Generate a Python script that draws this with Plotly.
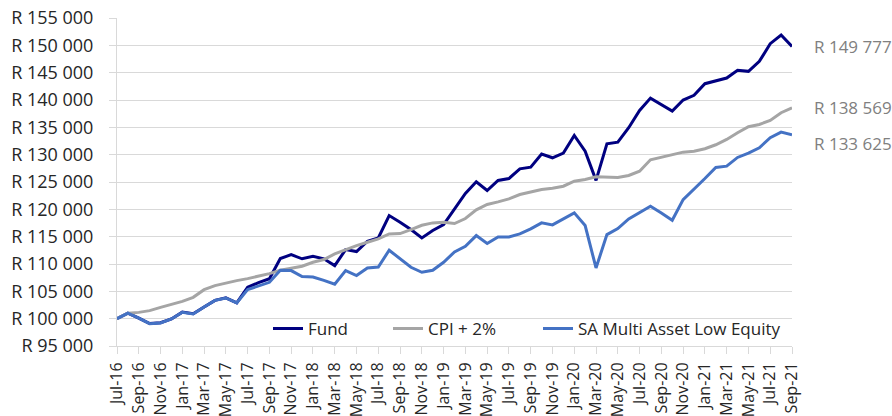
import plotly.graph_objects as go

months = ["Jul-16","Aug-16","Sep-16","Oct-16","Nov-16","Dec-16",
          "Jan-17","Feb-17","Mar-17","Apr-17","May-17","Jun-17","Jul-17","Aug-17","Sep-17","Oct-17","Nov-17","Dec-17",
          "Jan-18","Feb-18","Mar-18","Apr-18","May-18","Jun-18","Jul-18","Aug-18","Sep-18","Oct-18","Nov-18","Dec-18",
          "Jan-19","Feb-19","Mar-19","Apr-19","May-19","Jun-19","Jul-19","Aug-19","Sep-19","Oct-19","Nov-19","Dec-19",
          "Jan-20","Feb-20","Mar-20","Apr-20","May-20","Jun-20","Jul-20","Aug-20","Sep-20","Oct-20","Nov-20","Dec-20",
          "Jan-21","Feb-21","Mar-21","Apr-21","May-21","Jun-21","Jul-21","Aug-21","Sep-21"]

fund = [100000,101000,100100,99100,99250,99950,101200,100900,102150,103350,103800,102900,
        105740,106600,107300,110990,111700,110950,111400,110950,109700,112640,112270,114160,
        114770,118860,117640,116300,114770,116120,117220,120100,122900,125030,123440,125270,
        125640,127410,127720,130100,129430,130280,133520,130640,125300,131990,132290,134920,
        138100,140350,139190,137970,139990,140850,142980,143470,144020,145430,145240,147070,
        150310,151890,149777]

cpi = [100000,101000,101150,101470,102070,102560,103170,103900,105300,106040,106530,106960,
       107330,107750,108240,108850,109160,109590,110320,110810,111850,112640,113370,113980,
       114600,115510,115570,116300,117090,117520,117640,117400,118320,119900,120880,121370,
       121920,122710,123130,123630,123860,124230,125150,125460,125950,125820,125820,126190,
       126980,129060,129490,129910,130460,130640,131080,131810,132780,134000,135100,135530,
       136260,137670,138569]

sa = [100000,101000,100100,99080,99210,99940,101160,100850,102130,103350,103790,102870,
      105310,105920,106650,108850,108790,107700,107630,107000,106300,108790,107880,109280,
      109460,112520,110930,109400,108490,108850,110320,112210,113250,115200,113740,114960,
      114960,115510,116420,117520,117160,118250,119350,117030,109280,115380,116480,118260,
      119470,120570,119350,118010,121790,123630,125640,127660,127900,129490,130280,131260,
      133090,134120,133625]

series_names = ["Fund", "CPI + 2%", "SA Multi Asset Low Equity"]
series_colors = ["#000080", "#A5A5A5", "#4472C4"]
end_labels = ["R 149 777", "R 138 569", "R 133 625"]
end_label_shift = [0, 0, -9]
legend_ids = ["legend", "legend2", "legend3"]
legend_x = [0.2237, 0.4015, 0.6237]

y_ticks = list(range(95000, 155001, 5000))
y_ticktext = ["R " + f"{v:,}".replace(",", " ") for v in y_ticks]

FONT = "Open Sans"
TXT = "#262626"
x_idx = list(range(len(months)))

fig = go.Figure()
for name, vals, col, lg in zip(series_names, [fund, cpi, sa], series_colors, legend_ids):
    fig.add_trace(go.Scatter(x=x_idx, y=vals, name=name, mode="lines", legend=lg,
                             line=dict(color=col, width=3)))

for vals, txt, sh in zip([fund, cpi, sa], end_labels, end_label_shift):
    fig.add_annotation(x=x_idx[-1], y=vals[-1], text=txt, showarrow=False,
                       xanchor="left", yanchor="middle", xshift=20, yshift=sh,
                       font=dict(family=FONT, size=17, color="#808080"))

legend_common = dict(orientation="h", y=0.052, xanchor="left", yanchor="middle",
                     bgcolor="rgba(0,0,0,0)", font=dict(family=FONT, size=17, color=TXT),
                     itemwidth=30)
fig.update_layout(
    width=892, height=416,
    margin=dict(l=117, r=100, t=18, b=70, autoexpand=False),
    paper_bgcolor="white", plot_bgcolor="white",
    font=dict(family=FONT, size=17, color=TXT),
    legend=dict(x=legend_x[0], **legend_common),
    legend2=dict(x=legend_x[1], **legend_common),
    legend3=dict(x=legend_x[2], **legend_common),
    showlegend=True,
)
fig.update_xaxes(range=[0, len(months) - 1], tickvals=x_idx[::2], ticktext=months[::2],
                 tickangle=-90, showgrid=False, showline=True, linecolor="#D9D9D9", linewidth=1,
                 ticks="outside", ticklen=7, tickcolor="#D9D9D9", zeroline=False, automargin=False,
                 ticklabelstandoff=2, tickfont=dict(family=FONT, size=16, color=TXT))
fig.update_yaxes(range=[95000, 155000], tickvals=y_ticks, ticktext=y_ticktext,
                 showgrid=True, gridcolor="#D9D9D9", gridwidth=1, showline=True,
                 linecolor="#D9D9D9", linewidth=1, ticks="outside", ticklen=7, automargin=False,
                 tickcolor="#D9D9D9", zeroline=False, ticklabelstandoff=12,
                 tickfont=dict(family=FONT, size=18, color=TXT))

fig.write_html("out.html", config={"displayModeBar": False})
with open("out.html", "r", encoding="utf-8") as f:
    html = f.read()
html = html.replace("<head>", "<head><style>html,body{margin:0;padding:0;overflow:hidden;}</style>", 1)
with open("out.html", "w", encoding="utf-8") as f:
    f.write(html)
